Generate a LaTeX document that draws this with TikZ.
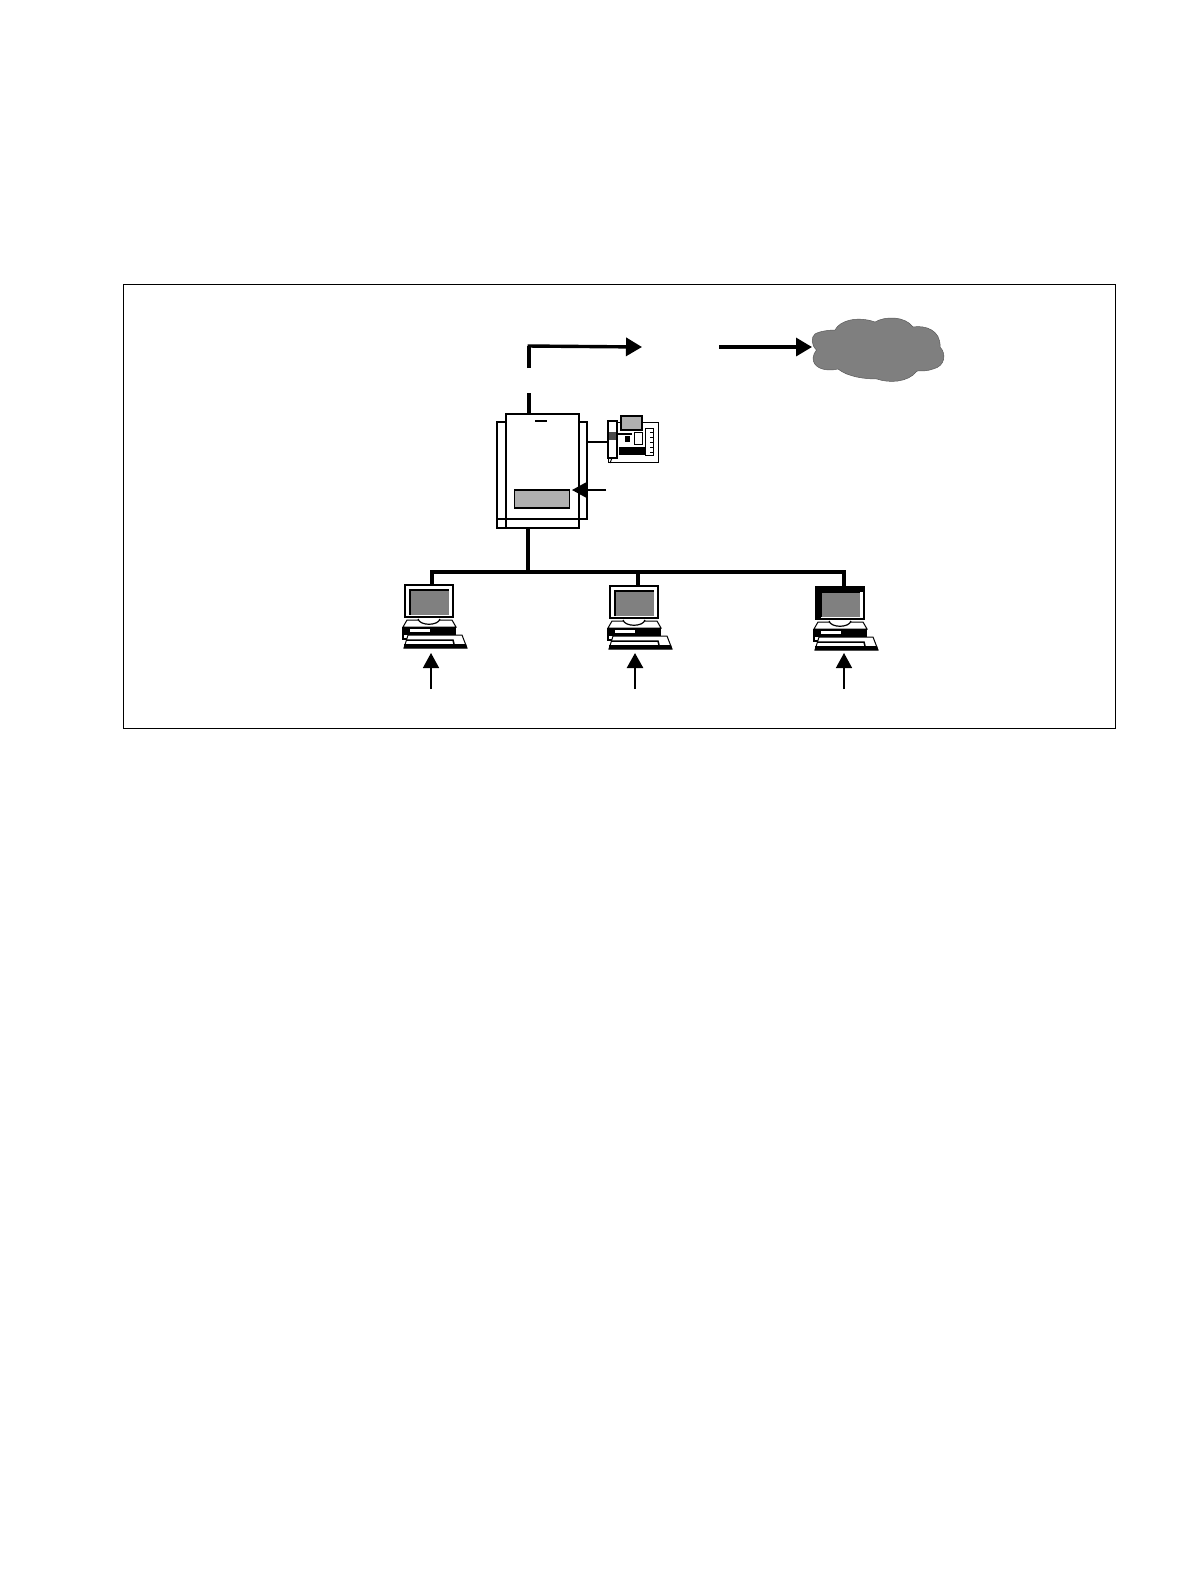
\documentclass[tikz,border=0pt]{standalone}
\usetikzlibrary{arrows.meta}
\definecolor{screengrey}{HTML}{808080}
\definecolor{cardgrey}{HTML}{B0B0B0}
\definecolor{cloudgrey}{HTML}{7F7F7F}
\tikzset{
  x=1pt,y=-1pt,
  framebox/.style={draw=black,line width=0.8pt,fill=white},
  pbxbox/.style={draw=black,line width=2.3pt,fill=white,inner sep=0pt,outer sep=0pt},
  cardbox/.style={draw=black,line width=1.6pt,fill=cardgrey,inner sep=0pt,outer sep=0pt},
  phonebox/.style={draw=black,line width=1pt,fill=white,inner sep=0pt,outer sep=0pt},
  dot/.style={inner sep=0pt,outer sep=0pt,minimum size=0pt},
  feed/.style={line width=3.2pt},
  bus/.style={line width=3.2pt},
  thinlink/.style={line width=1.5pt},
  bigarrow/.style={line width=3.4pt,-{Triangle[length=16pt,width=18pt]}},
  smallarrow/.style={line width=1.5pt,-{Triangle[length=15pt,width=16pt]}},
  midarrow/.style={line width=2.5pt,-{Triangle[length=15pt,width=16pt]}},
  laptop/.pic={
    \filldraw[fill=white,draw=black,line width=2pt] (0,0) rectangle (48,32);
    \fill[screengrey] (6,6) rectangle (44,30);
    \draw[black,line width=1.5pt] (5,30) -- (5,5) -- (44,5);
    \filldraw[fill=white,draw=black,line width=1pt] (2,35) -- (47,35) -- (51,42) -- (-2,42) -- cycle;
    \filldraw[fill=white,draw=black,line width=1.2pt] (13,34) .. controls (15,41) and (33,41) .. (35,34);
    \fill[black] (-2,42) rectangle (51,50);
    \fill[white] (5,44) rectangle (25,47);
    \draw[black,line width=1.2pt] (-2,42) -- (-2,54) -- (3,54);
    \filldraw[fill=white,draw=black,line width=1pt] (3,50) -- (57,50) -- (62,63) -- (-1,63) -- cycle;
    \draw[black,line width=1.5pt] (2,55) -- (48,55) -- (49,59);
    \fill[black] (-1,59) -- (61,59) -- (62,63) -- (-1,63) -- cycle;
  }
}
\begin{document}
\begin{tikzpicture}
\useasboundingbox (0,0) rectangle (1190,1580);
\fill[white] (0,0) rectangle (1190,1580);
\draw[framebox] (123,284) rectangle (1115.5,728);

% cloud
\filldraw[fill=cloudgrey,draw=black!65,line width=0.5pt]
  (816.5,350) .. controls (811,345) and (811,337) .. (815,334)
  .. controls (820,331) and (830,330) .. (835,330)
  .. controls (840,320) and (858,316) .. (875,322)
  .. controls (885,316) and (905,316) .. (913,327)
  .. controls (925,325) and (941,330) .. (940,347)
  .. controls (946,353) and (946,366) .. (933,369)
  .. controls (928,371) and (922,371) .. (917,371)
  .. controls (908,383) and (888,383) .. (877,379)
  .. controls (865,379) and (848,377) .. (838,369)
  .. controls (825,372) and (813,368) .. (813,358)
  .. controls (813,355) and (815,352) .. (816.5,350) -- cycle;
\node[dot] (cloudin) at (812,347) {};

% PBX
\node[pbxbox,minimum width=90pt,minimum height=97pt] (pbxback) at (542,470.5) {};
\draw[line width=2.3pt] (497,519) -- (497,528) -- (506,528);
\node[pbxbox,minimum width=73pt,minimum height=114pt] (pbx) at (542.5,471) {};
\draw[line width=2.3pt] (pbxback.south west) -- (pbxback.south east) -- (pbxback.north east) -- ([xshift=-8pt]pbxback.north east);
\draw[line width=1.5pt] (535,421) -- (547,421);
\node[cardbox,minimum width=55pt,minimum height=18pt] (card) at (542,499) {};

% phone
\node[phonebox,minimum width=50pt,minimum height=40pt] (phone) at (633,442) {};
\filldraw[fill=white,draw=black,line width=1.2pt] (608,421) rectangle (617,458);
\fill[black!70] (609,432) rectangle (616,440);
\draw[line width=1pt] (612,458) -- (610,463);
\filldraw[fill=cardgrey,draw=black,line width=2.4pt] (621,416) rectangle (642,430);
\fill[black] (619,447) rectangle (645,455);
\fill[black] (625,436) rectangle (630,442);
\filldraw[fill=white,draw=black,line width=0.6pt] (634,432) rectangle (642,444);
\filldraw[fill=white,draw=black,line width=0.8pt] (645,428) rectangle (653,455);
\foreach \ty in {432,437,442,447,452} \draw[line width=0.8pt] (650,\ty) -- (654,\ty);
\fill[black] (617,433) rectangle (632,435);

% upper feed
\coordinate (elbowlow) at (529,368);
\coordinate (elbow) at (529,346);
\node[dot] (relay) at (642,347) {};
\node[dot] (relayout) at (719,347) {};
\coordinate (stubtop) at (529,393);
\draw[feed] (elbowlow) -- (elbow);
\draw[bigarrow] (527.5,346) -- (relay);
\draw[bigarrow] (relayout) -- (cloudin);
\draw[feed] (stubtop) -- (pbx.north -| stubtop);

% phone link and card arrow
\draw[thinlink] (587,442) -- (phone.west);
\coordinate (cardlabel) at (606,490);
\draw[smallarrow] (cardlabel) -- (572,490);

% LAN bus
\coordinate (busleft) at (432,572);
\coordinate (busmid) at (638,572);
\coordinate (busright) at (844,572);
\coordinate (bustap) at (528,572);
\draw[feed] (bustap) -- (528,527);
\draw[bus,line cap=rect] (busleft) -- (busright);
\pic at (405,585) {laptop};
\pic at (610,586) {laptop};
\pic at (816,587) {laptop};
\fill[black] (815,586) rectangle (864,592);
\fill[black] (815,586) rectangle (821,619);
\draw[bus] (busleft) -- (432,586);
\draw[bus] (busmid) -- (638,587);
\draw[bus] (busright) -- (844,587);

% arrows to laptops
\coordinate (la) at (431,689);
\coordinate (lb) at (635,689);
\coordinate (lc) at (844,689);
\draw[smallarrow] (la) -- (431,653);
\draw[midarrow] (lb) -- (635,653);
\draw[smallarrow] (lc) -- (844,653);
\end{tikzpicture}
\end{document}
